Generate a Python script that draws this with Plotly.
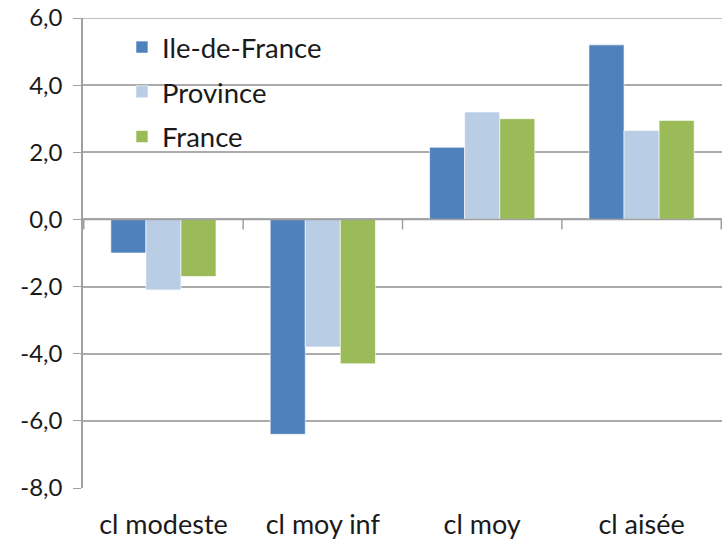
import plotly.graph_objects as go

categories = ["cl modeste", "cl moy inf", "cl moy", "cl aisée"]
series_names = ["Ile-de-France", "Province", "France"]
ile_de_france = [-1.0, -6.4, 2.15, 5.2]
province = [-2.1, -3.8, 3.2, 2.65]
france = [-1.7, -4.3, 3.0, 2.95]
colors = ["#4F81BD", "#B9CDE5", "#9BBB59"]
y_ticks = [-8, -6, -4, -2, 0, 2, 4, 6]
y_tick_labels = ["-8,0", "-6,0", "-4,0", "-2,0", "0,0", "2,0", "4,0", "6,0"]

fig = go.Figure()
for i, (name, vals) in enumerate(zip(series_names, [ile_de_france, province, france])):
    fig.add_trace(go.Bar(
        x=categories, y=vals, name=name, legendgroup=name,
        marker=dict(color=colors[i], line=dict(color="rgba(255,255,255,0.6)", width=1)),
    ))

# category-boundary tick marks on the zero line (Excel-style axis crossing at 0)
for b in [-0.5, 0.5, 1.5, 2.5, 3.5]:
    fig.add_shape(type="line", xref="x", yref="y", x0=b, x1=b, y0=0, y1=-0.3,
                  line=dict(color="#A0A0A0", width=1.5))
fig.add_shape(type="line", xref="paper", yref="y", x0=0, x1=1, y0=0, y1=0,
              line=dict(color="#A0A0A0", width=1.5), layer="above")
# top gridline (plotly drops the gridline sitting on the range edge)
fig.add_shape(type="line", xref="paper", yref="y", x0=0, x1=1, y0=y_ticks[-1], y1=y_ticks[-1],
              line=dict(color="#ABABAB", width=1.5), layer="below")

fig.update_layout(
    width=724, height=540,
    margin=dict(l=83, r=2, t=18, b=52),
    paper_bgcolor="white", plot_bgcolor="white",
    barmode="group", bargap=0.34, bargroupgap=0,
    font=dict(family="Lato, 'Open Sans', sans-serif", color="#1a1a1a"),
    legend=dict(x=0.061, y=0.99, xanchor="left", yanchor="top",
                font=dict(size=27.5), tracegroupgap=6,
                bgcolor="rgba(0,0,0,0)", itemwidth=30),
    xaxis=dict(showgrid=False, showline=False, ticks="", tickfont=dict(size=27),
               ticklabelstandoff=18, automargin=False),
    yaxis=dict(range=[-8, 6], tickvals=y_ticks, ticktext=y_tick_labels,
               showgrid=True, gridcolor="#ABABAB", gridwidth=1.5,
               showline=True, linecolor="#A0A0A0", linewidth=1.5,
               ticks="outside", ticklen=8, tickcolor="#A0A0A0",
               ticklabelstandoff=6,
               tickfont=dict(size=24), zeroline=False, automargin=False),
    showlegend=True,
)

fig.write_html("out.html", config={"displayModeBar": False},
               post_script="document.body.style.margin='0px';")
